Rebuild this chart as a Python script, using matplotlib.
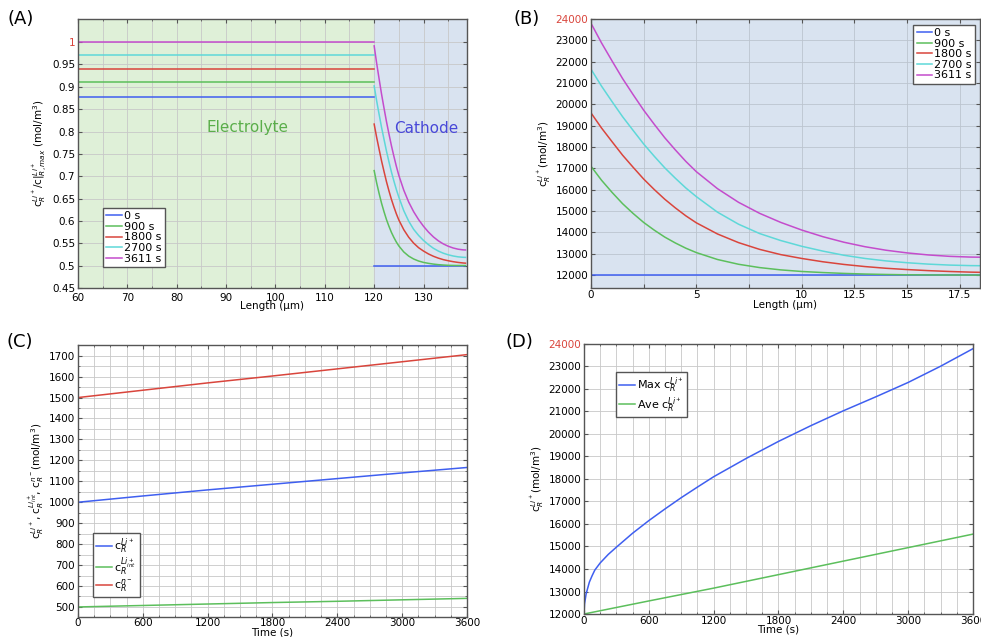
import numpy as np
import matplotlib
matplotlib.use("Agg")
import matplotlib.pyplot as plt
from matplotlib.ticker import MultipleLocator, FormatStrFormatter

# ---- data ----
times = ["0 s", "900 s", "1800 s", "2700 s", "3611 s"]
colors = ["#3f5ff0", "#5cbf5c", "#d9453c", "#5ed8d8", "#c44ccc"]

# (A) electrolyte plateau, normalised, 60..120 um
elec_x = [60, 120]
elec_level = [0.878, 0.910, 0.941, 0.971, 1.0]

# (B) particle concentration vs depth into cathode (um)
depth = [0, 0.5, 1, 1.5, 2, 2.5, 3, 3.5, 4, 4.5, 5, 6, 7, 8, 9, 10,
         11, 12, 13, 14, 15, 16, 17, 18, 18.5]
c_0 = [12000] * len(depth)
c_900 = [17100, 16446, 15876, 15346, 14888, 14467, 14108, 13782, 13507, 13261,
         13055, 12732, 12508, 12353, 12245, 12170, 12120, 12080, 12050, 12030,
         12015, 12008, 12004, 12002, 12001]
c_1800 = [19600, 18892, 18250, 17618, 17051, 16500, 16011, 15555, 15151, 14777,
          14449, 13928, 13522, 13206, 12961, 12780, 12625, 12500, 12400, 12320,
          12260, 12210, 12170, 12140, 12130]
c_2700 = [21650, 20854, 20127, 19420, 18778, 18142, 17570, 17026, 16540, 16082,
          15675, 14949, 14385, 13947, 13620, 13350, 13125, 12930, 12780, 12665,
          12580, 12515, 12470, 12445, 12440]
c_3611 = [23800, 22878, 22032, 21206, 20454, 19726, 19067, 18436, 17867, 17327,
          16844, 16050, 15410, 14894, 14470, 14110, 13800, 13540, 13330, 13165,
          13040, 12945, 12880, 12845, 12838]
c_max = 24000
cathode_start = 120

# (C) concentrations vs time
t_c = [0, 600, 1200, 1800, 2400, 3000, 3600]
c_li = [1000, 1030, 1059, 1086, 1113, 1140, 1166]
c_li_int = [500, 507, 514, 521, 527, 534, 541]
c_anion = [1500, 1535, 1570, 1603, 1637, 1671, 1705]

# (D) max / average particle concentration vs time
t_d = [0, 5, 20, 50, 75, 100, 150, 225, 300, 450, 600, 750, 900, 1050, 1200,
       1500, 1800, 2100, 2400, 2700, 3000, 3300, 3600]
c_max_t = [12000, 12450, 12900, 13420, 13700, 13950, 14270, 14650, 14970, 15590,
           16150, 16670, 17170, 17640, 18100, 18910, 19670, 20370, 21030, 21650,
           22290, 23010, 23790]
t_ave = [0, 600, 1200, 1800, 2400, 3000, 3600]
c_ave_t = [12000, 12580, 13150, 13750, 14350, 14950, 15550]

fs = 7.5
grid_col = "#c8c8c8"
spine_col = "#555555"


def style(ax, xpad=1.5):
    for s in ax.spines.values():
        s.set_color(spine_col)
        s.set_linewidth(1.0)
    ax.tick_params(which="both", direction="in", top=True, right=True,
                   labelsize=fs, color=spine_col, pad=2)
    ax.tick_params(axis="x", which="major", pad=xpad)
    ax.tick_params(which="major", length=3)
    ax.tick_params(which="minor", length=1.5)
    ax.grid(True, which="both", color=grid_col, lw=0.6)
    ax.set_axisbelow(True)


def legend(ax, **kw):
    leg = ax.legend(fontsize=8, handlelength=1.4, handletextpad=0.2,
                    borderpad=0.3, labelspacing=0.05, fancybox=False,
                    edgecolor=spine_col, framealpha=1, borderaxespad=0, **kw)
    leg.get_frame().set_linewidth(1.0)
    return leg


fig = plt.figure(figsize=(9.81, 6.37), dpi=100)
axA = fig.add_axes([0.0795, 0.548, 0.3965, 0.4223])
axB = fig.add_axes([0.6024, 0.548, 0.3965, 0.4223])
axC = fig.add_axes([0.0795, 0.0314, 0.3965, 0.427])
axD = fig.add_axes([0.5953, 0.0361, 0.3965, 0.4239])

series = [c_0, c_900, c_1800, c_2700, c_3611]

# ---------- (A) ----------
axA.axvspan(60, cathode_start, color="#dff0d8", zorder=0)
axA.axvspan(cathode_start, 140, color="#d9e3f0", zorder=0)
for lvl, c, col, lab in zip(elec_level, series, colors, times):
    axA.plot(elec_x, [lvl, lvl], color=col, lw=1.1, label=lab)
    xs = [cathode_start + d for d in depth]
    axA.plot(xs, [v / c_max for v in c], color=col, lw=1.1)
axA.set_xlim(60, 138.8)
axA.set_ylim(0.45, 1.052)
axA.set_xticks(np.arange(60, 131, 10))
axA.xaxis.set_minor_locator(MultipleLocator(5))
axA.set_yticks(np.round(np.arange(0.45, 1.001, 0.05), 2))
axA.yaxis.set_major_formatter(FormatStrFormatter("%g"))
style(axA, xpad=3.5)
axA.get_yticklabels()[-1].set_color("#d9453c")
axA.text(94.3, 0.809, "Electrolyte", color="#5aae4a", fontsize=11,
         ha="center", va="center")
axA.text(130.6, 0.807, "Cathode", color="#4848d8", fontsize=11,
         ha="center", va="center")
axA.set_xlabel("Length (\u03bcm)", fontsize=fs, labelpad=-1)
axA.set_ylabel(r"c$_R^{Li^+}$/c$|_{R,max}^{Li^+}$ (mol/m$^3$)", fontsize=fs,
               labelpad=2)
legend(axA, loc="lower left", bbox_to_anchor=(0.064, 0.078))

# ---------- (B) ----------
axB.set_facecolor("#d9e3f0")
for c, col, lab in zip(series, colors, times):
    axB.plot(depth, c, color=col, lw=1.1, label=lab)
axB.set_xlim(0, 18.45)
axB.set_ylim(11400, 24000)
axB.set_xticks(np.arange(0, 17.6, 2.5))
axB.set_xticklabels(["0", "", "5", "", "10", "12.5", "15", "17.5"])
axB.set_yticks(np.arange(12000, 24001, 1000))
style(axB)
axB.grid(True, which="major", color="#bcc4cf", lw=0.6)
axB.get_yticklabels()[-1].set_color("#d9453c")
axB.set_xlabel("Length (\u03bcm)", fontsize=fs, labelpad=0)
axB.set_ylabel(r"c$_R^{Li^+}$(mol/m$^3$)", fontsize=fs, labelpad=2)
legend(axB, loc="upper right", bbox_to_anchor=(0.988, 0.978))

# ---------- (C) ----------
axC.plot(t_c, c_li, color=colors[0], lw=1.1, label=r"c$_R^{Li^+}$")
axC.plot(t_c, c_li_int, color=colors[1], lw=1.1, label=r"c$_R^{Li^+_{int}}$")
axC.plot(t_c, c_anion, color=colors[2], lw=1.1, label=r"c$_R^{n^-}$")
axC.set_xlim(0, 3600)
axC.set_ylim(452, 1751)
axC.set_xticks(np.arange(0, 3601, 600))
axC.xaxis.set_minor_locator(MultipleLocator(150))
axC.set_yticks(np.arange(500, 1701, 100))
axC.yaxis.set_minor_locator(MultipleLocator(50))
style(axC, xpad=0.8)
axC.set_xlabel("Time (s)", fontsize=fs, labelpad=-0.3)
axC.set_ylabel(r"c$_R^{Li^+}$, c$_R^{Li^+_{int}}$, c$_R^{n^-}$(mol/m$^3$)",
               fontsize=fs, labelpad=2)
legend(axC, loc="lower left", bbox_to_anchor=(0.039, 0.074))

# ---------- (D) ----------
axD.plot(t_d, c_max_t, color=colors[0], lw=1.1, label=r"Max c$_R^{Li^+}$")
axD.plot(t_ave, c_ave_t, color=colors[1], lw=1.1, label=r"Ave c$_R^{Li^+}$")
axD.set_xlim(0, 3600)
axD.set_ylim(12000, 24000)
axD.set_xticks(np.arange(0, 3601, 600))
axD.xaxis.set_minor_locator(MultipleLocator(150))
axD.set_yticks(np.arange(12000, 24001, 1000))
style(axD)
axD.get_yticklabels()[-1].set_color("#d9453c")
axD.set_xlabel("Time (s)", fontsize=fs, labelpad=-1)
axD.set_ylabel(r"c$_R^{Li^+}$(mol/m$^3$)", fontsize=fs, labelpad=2)
legend(axD, loc="upper left", bbox_to_anchor=(0.082, 0.896))

# panel letters
for x, y, s in [(0.008, 0.985, "(A)"), (0.523, 0.985, "(B)"),
                (0.007, 0.478, "(C)"), (0.515, 0.478, "(D)")]:
    fig.text(x, y, s, fontsize=13, va="top", ha="left")

fig.savefig("out.png", dpi=100)
